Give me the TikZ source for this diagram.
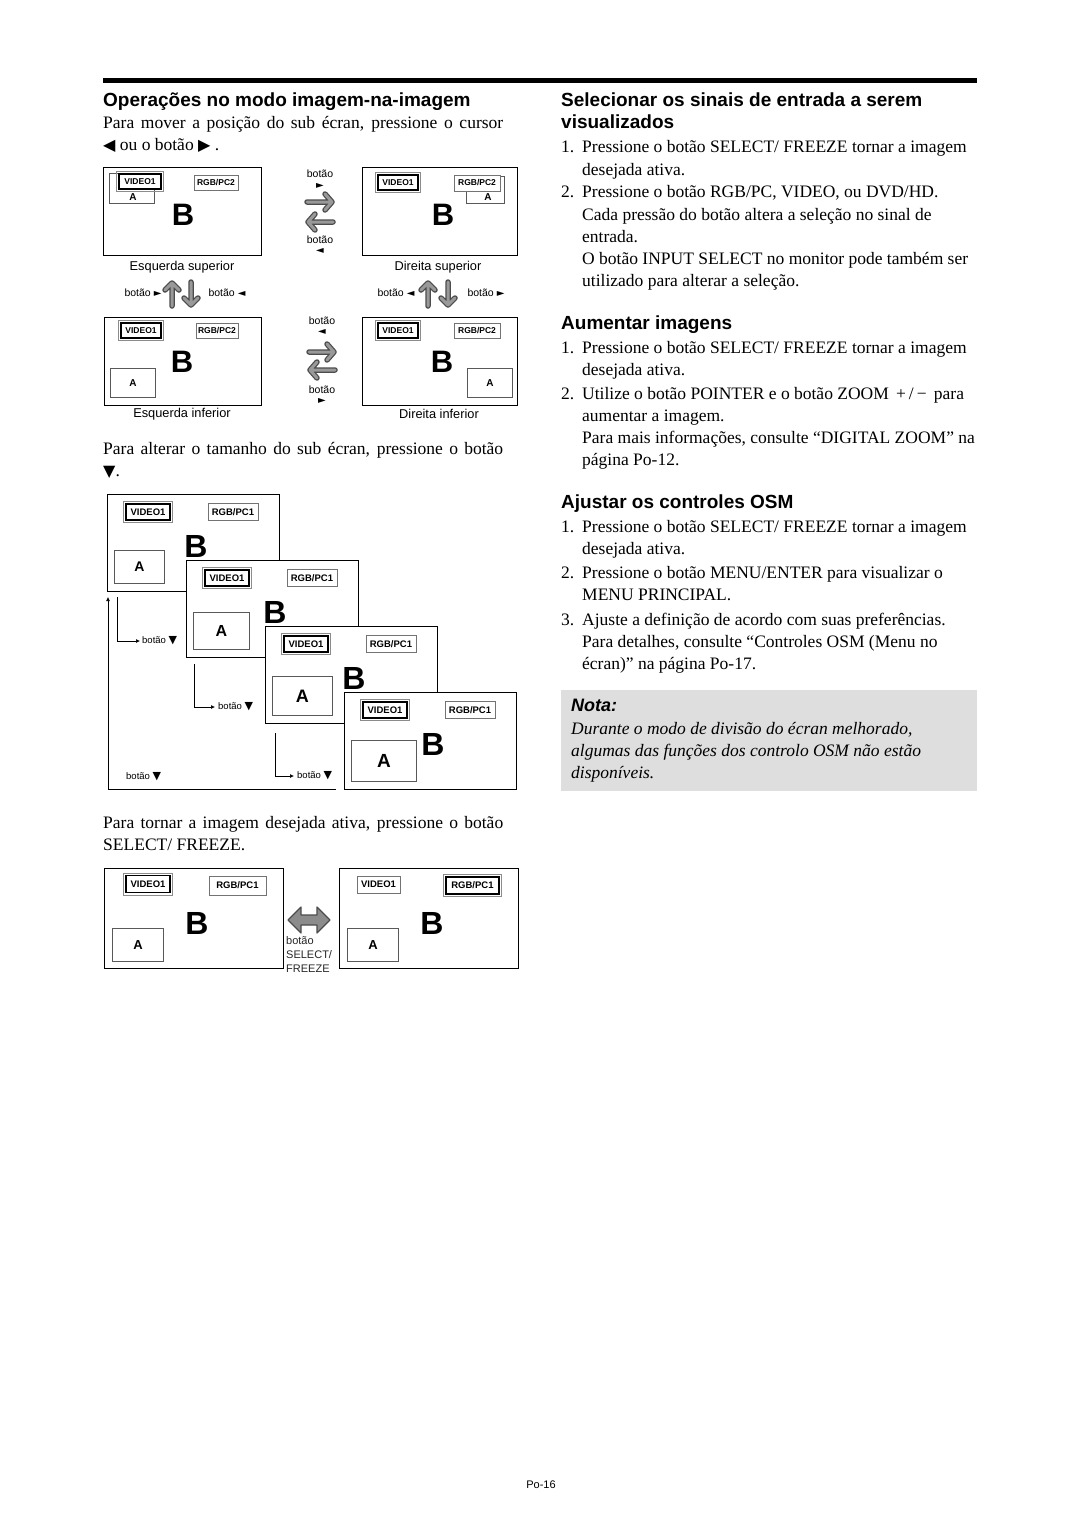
\documentclass[tikz,border=0pt]{standalone}
\usepackage{fontspec}
\setmainfont{Liberation Serif}
\setsansfont{Liberation Sans}
\newfontfamily\symf{DejaVu Sans}
\usetikzlibrary{arrows.meta}
\tikzset{
  body/.style={anchor=base west, inner sep=0pt, font=\fontsize{17.5}{21}\selectfont},
  bodyit/.style={body, font=\itshape\fontsize{17.5}{21}\selectfont},
  head/.style={anchor=base west, inner sep=0pt, font=\sffamily\bfseries\fontsize{19}{22}\selectfont},
  scr/.style={draw=black, line width=1.1pt, fill=white},
  abox/.style={draw=black!65, line width=0.9pt, fill=white},
  lbl/.style={draw=black!55, line width=0.7pt, fill=white, inner sep=0pt, font=\sffamily\bfseries\fontsize{8.5}{9}\selectfont},
  lblb/.style={lbl, font=\sffamily\bfseries\fontsize{9.5}{10}\selectfont},
  bigB/.style={inner sep=0pt, font=\sffamily\bfseries\fontsize{31}{31}\selectfont},
  smalltxt/.style={inner sep=0pt, font=\sffamily\fontsize{10.5}{11}\selectfont},
  captxt/.style={inner sep=0pt, font=\sffamily\fontsize{12.8}{13}\selectfont},
  gout/.style={draw=black!70, line width=5.5pt, line cap=round, line join=round},
  gin/.style={draw=black!40, line width=3pt, line cap=round, line join=round},
  thinarr/.style={draw=black, line width=0.7pt, -{Latex[length=4pt,width=4pt]}},
}
\newcommand\tl[4]{\node[body] (#1) at (#2,#3) {#4};}
\newcommand\tlj[4]{\node[body] (#1) at (#2,#3) {\makebox[400pt][s]{#4}};}
\newcommand\tli[4]{\node[bodyit] (#1) at (#2,#3) {#4};}
% active label with double border
\newcommand\actlbl[7]{\node[#7, draw=black, line width=1.1pt, minimum width=#4, minimum height=#5] (#1) at (#2,#3) {#6};
  \draw[black!45, line width=0.6pt] ([shift={(-2,2)}]#1.south west) rectangle ([shift={(2,-2)}]#1.north east);}
\newcommand\inlbl[7]{\node[#7, minimum width=#4, minimum height=#5] (#1) at (#2,#3) {#6};}
\newcommand\harrow[3]{\begin{scope}[shift={(#1,#2)}, xscale=#3]
  \draw[gout] (-13,0) -- (12,0) (5,-8) -- (12,0) -- (5,8);
  \draw[gin] (-13,0) -- (12,0) (5,-8) -- (12,0) -- (5,8);
\end{scope}}
\newcommand\uparr[2]{\begin{scope}[shift={(#1,#2)}]
  \draw[gout] (0,12) -- (0,-11) (-7,-4) -- (0,-11) -- (7,-4);
  \draw[gin] (0,12) -- (0,-11) (-7,-4) -- (0,-11) -- (7,-4);
\end{scope}}
\newcommand\dnarr[2]{\begin{scope}[shift={(#1,#2)}]
  \draw[gout] (0,-12) -- (0,11) (-7,4) -- (0,11) -- (7,4);
  \draw[gin] (0,-12) -- (0,11) (-7,4) -- (0,11) -- (7,4);
\end{scope}}
\newcommand\tri[1]{{\symf\fontsize{10}{10}\selectfont #1}}
\newcommand\bigtri[1]{{\symf\fontsize{16}{16}\selectfont #1}}
\begin{document}
\begin{tikzpicture}[x=1pt,y=-1pt]
\useasboundingbox[fill=white] (0,0) rectangle (1080,1528);
\draw[line width=5.5pt] (103,80.5) -- (977,80.5);

% ---------- left column text ----------
\node[head] (hL) at (103,106) {Operações no modo imagem-na-imagem};
\tlj{l1}{103}{128}{Para mover a posição do sub écran, pressione o cursor}
\tl{l2}{103}{150}{\bigtri{◀} ou o botão \bigtri{▶} .}

% ---------- top grid ----------
% screen TL
\node[scr, minimum width=158, minimum height=88, anchor=north west] (s1) at (103,167) {};
\node[abox, minimum width=45, minimum height=30, anchor=north west] (s1a) at (109,173) {};
\actlbl{s1v}{140}{181.5}{42}{15}{VIDEO1}{lbl}
\inlbl{s1r}{216}{182.5}{44}{15}{RGB/PC2}{lbl}
\node[inner sep=0pt, font=\sffamily\bfseries\fontsize{10}{10}\selectfont] (s1at) at (133,197) {A};
\node[bigB] (s1b) at (183,215) {B};
% screen TR
\node[scr, minimum width=155, minimum height=88, anchor=north west] (s2) at (362,167) {};
\node[abox, minimum width=38, minimum height=27, anchor=north west] (s2a) at (466,176) {};
\actlbl{s2v}{398}{182.5}{40}{15}{VIDEO1}{lbl}
\inlbl{s2r}{477}{183}{46}{16}{RGB/PC2}{lbl}
\node[inner sep=0pt, font=\sffamily\bfseries\fontsize{10}{10}\selectfont] (s2at) at (488,197) {A};
\node[bigB] (s2b) at (443,215) {B};
% arrows between
\node[smalltxt] (b1) at (320,174) {botão};
\node[inner sep=0pt] (b1t) at (320,186) {\tri{►}};
\harrow{320}{202}{1}
\harrow{320}{222}{-1}
\node[smalltxt] (b2) at (320,240) {botão};
\node[inner sep=0pt] (b2t) at (320,251) {\tri{◄}};
\node[captxt] (c1) at (182,267) {Esquerda superior};
\node[captxt] (c2) at (438,267) {Direita superior};
% small arrows row
\node[smalltxt] (b3) at (143,293) {botão \tri{►}};
\uparr{172}{294}
\dnarr{191}{294}
\node[smalltxt] (b4) at (227,293) {botão \tri{◄}};
\node[smalltxt] (b5) at (396,293) {botão \tri{◄}};
\uparr{428}{294}
\dnarr{448}{294}
\node[smalltxt] (b6) at (486,293) {botão \tri{►}};

% screen BL
\node[scr, minimum width=157, minimum height=88, anchor=north west] (s3) at (104,317) {};
\actlbl{s3v}{141}{330.5}{40}{15}{VIDEO1}{lbl}
\inlbl{s3r}{217}{330.5}{42}{15}{RGB/PC2}{lbl}
\node[abox, minimum width=45, minimum height=29, anchor=north west, font=\sffamily\bfseries\fontsize{10}{10}\selectfont] (s3a) at (110,368) {A};
\node[bigB] (s3b) at (182,362) {B};
% screen BR
\node[scr, minimum width=155, minimum height=88, anchor=north west] (s4) at (362,317) {};
\actlbl{s4v}{398}{330.5}{40}{15}{VIDEO1}{lbl}
\inlbl{s4r}{477}{330.5}{46}{15}{RGB/PC2}{lbl}
\node[abox, minimum width=45, minimum height=29, anchor=north west, font=\sffamily\bfseries\fontsize{10}{10}\selectfont] (s4a) at (467,368) {A};
\node[bigB] (s4b) at (442,362) {B};
\node[smalltxt] (b7) at (322,321) {botão};
\node[inner sep=0pt] (b7t) at (322,332) {\tri{◄}};
\harrow{322}{352}{1}
\harrow{322}{370}{-1}
\node[smalltxt] (b8) at (322,390) {botão};
\node[inner sep=0pt] (b8t) at (322,401) {\tri{►}};
\node[captxt] (c3) at (182,414) {Esquerda inferior};
\node[captxt] (c4) at (439,414) {Direita inferior};

\tlj{l3}{103}{454}{Para alterar o tamanho do sub écran, pressione o botão}
\tl{l4}{103}{476}{\bigtri{▼}.}

% ---------- cascade ----------
\foreach \k/\w/\h/\fs in {0/50/33/14, 1/56/37/16, 2/60/39/18, 3/65/41/19} {
  \pgfmathsetmacro\ox{107+79*\k}
  \pgfmathsetmacro\oy{494+66*\k}
  \begin{scope}[shift={(\ox,\oy)}]
    \node[scr, minimum width=172, minimum height=97, anchor=north west] (c\k) at (0,0) {};
    \node[lblb, draw=black, line width=1.1pt, minimum width=44, minimum height=16] (c\k v) at (41,18) {VIDEO1};
    \draw[black!45, line width=0.6pt] ([shift={(-2,2)}]c\k v.south west) rectangle ([shift={(2,-2)}]c\k v.north east);
    \node[lblb, minimum width=50, minimum height=17] (c\k r) at (126,18) {RGB/PC1};
    \node[abox, minimum width=\w, minimum height=\h, anchor=south west, font=\sffamily\bfseries\fontsize{\fs}{\fs}\selectfont] (c\k a) at (7,90) {A};
    \node[bigB, font=\sffamily\bfseries\fontsize{32}{32}\selectfont] (c\k b) at (89,52) {B};
  \end{scope}
}
\coordinate (p1s) at (117,597); \coordinate (p1c) at (117,641); \coordinate (p1e) at (140,641);
\draw[thinarr] (p1s) -- (p1c) -- (p1e);
\node[smalltxt, anchor=west, font=\sffamily\fontsize{9.5}{10}\selectfont] (d1) at (142,641) {botão {\symf\fontsize{11}{11}\selectfont ▼}};
\coordinate (p2s) at (194,664); \coordinate (p2c) at (194,707); \coordinate (p2e) at (215,707);
\draw[thinarr] (p2s) -- (p2c) -- (p2e);
\node[smalltxt, anchor=west, font=\sffamily\fontsize{9.5}{10}\selectfont] (d2) at (218,707) {botão {\symf\fontsize{11}{11}\selectfont ▼}};
\coordinate (p3s) at (275,733); \coordinate (p3c) at (275,776); \coordinate (p3e) at (294,776);
\draw[thinarr] (p3s) -- (p3c) -- (p3e);
\node[smalltxt, anchor=west, font=\sffamily\fontsize{9.5}{10}\selectfont] (d3) at (297,776) {botão {\symf\fontsize{11}{11}\selectfont ▼}};
\coordinate (p4s) at (336,789); \coordinate (p4c) at (108,789); \coordinate (p4e) at (108,597);
\draw[thinarr] (p4s) -- (p4c) -- (p4e);
\node[smalltxt, anchor=west, font=\sffamily\fontsize{9.5}{10}\selectfont] (d4) at (126,777) {botão {\symf\fontsize{11}{11}\selectfont ▼}};

\tlj{l5}{103}{828}{Para tornar a imagem desejada ativa, pressione o botão}
\tl{l6}{103}{850}{SELECT/ FREEZE.}

% ---------- bottom pair ----------
\node[scr, minimum width=179, minimum height=100, anchor=north west] (e1) at (104,868) {};
\actlbl{e1v}{148}{884}{44}{17}{VIDEO1}{lblb}
\inlbl{e1r}{237.5}{885.5}{57}{19}{RGB/PC1}{lblb}
\node[abox, minimum width=51, minimum height=33, anchor=north west, font=\sffamily\bfseries\fontsize{13}{13}\selectfont] (e1a) at (112,928) {A};
\node[bigB, font=\sffamily\bfseries\fontsize{32}{32}\selectfont] (e1b) at (197,923) {B};
\node[scr, minimum width=179, minimum height=100, anchor=north west] (e2) at (339,868) {};
\inlbl{e2v}{378.5}{884.5}{43}{17}{VIDEO1}{lblb}
\actlbl{e2r}{472.5}{885.5}{53}{17}{RGB/PC1}{lblb}
\node[abox, minimum width=51, minimum height=33, anchor=north west, font=\sffamily\bfseries\fontsize{13}{13}\selectfont] (e2a) at (347,928) {A};
\node[bigB, font=\sffamily\bfseries\fontsize{32}{32}\selectfont] (e2b) at (432,923) {B};
\draw[fill=black!45, draw=black!70, line width=1.2pt, line join=round]
  (288,920) -- (301,907) -- (301,915) -- (317,915) -- (317,907) -- (330,920) -- (317,933) -- (317,925) -- (301,925) -- (301,933) -- cycle;
\node[anchor=north west, inner sep=0pt, align=left, font=\sffamily\fontsize{11}{14}\selectfont, text=black!85] (sf) at (286,936) {botão\\SELECT/\\FREEZE};

% ---------- right column ----------
\node[head] (h1) at (561,106) {Selecionar os sinais de entrada a serem};
\node[head] (h1b) at (561,128) {visualizados};
\tl{r1n}{561}{152}{1.}\tl{r1}{582}{152}{Pressione o botão SELECT/ FREEZE tornar a imagem}
\tl{r1b}{582}{175}{desejada ativa.}
\tl{r2n}{561}{197}{2.}\tl{r2}{582}{197}{Pressione o botão RGB/PC, VIDEO, ou DVD/HD.}
\tl{r2b}{582}{220}{Cada pressão do botão altera a seleção no sinal de}
\tl{r2c}{582}{242}{entrada.}
\tl{r2d}{582}{264}{O botão INPUT SELECT no monitor pode também ser}
\tl{r2e}{582}{286}{utilizado para alterar a seleção.}

\node[head] (h2) at (561,329) {Aumentar imagens};
\tl{r3n}{561}{353}{1.}\tl{r3}{582}{353}{Pressione o botão SELECT/ FREEZE tornar a imagem}
\tl{r3b}{582}{375}{desejada ativa.}
\tl{r4n}{561}{399}{2.}\tl{r4}{582}{399}{Utilize o botão POINTER e o botão ZOOM \,+\,/\,−\, para}
\tl{r4b}{582}{421}{aumentar a imagem.}
\tl{r4c}{582}{443}{Para mais informações, consulte “DIGITAL ZOOM” na}
\tl{r4d}{582}{465}{página Po-12.}

\node[head] (h3) at (561,508) {Ajustar os controles OSM};
\tl{r5n}{561}{532}{1.}\tl{r5}{582}{532}{Pressione o botão SELECT/ FREEZE tornar a imagem}
\tl{r5b}{582}{554}{desejada ativa.}
\tl{r6n}{561}{578}{2.}\tl{r6}{582}{578}{Pressione o botão MENU/ENTER para visualizar o}
\tl{r6b}{582}{600}{MENU PRINCIPAL.}
\tl{r7n}{561}{625}{3.}\tl{r7}{582}{625}{Ajuste a definição de acordo com suas preferências.}
\tl{r7b}{582}{647}{Para detalhes, consulte “Controles OSM (Menu no}
\tl{r7c}{582}{669}{écran)” na página Po-17.}

% nota box
\node[fill=black!13, minimum width=416, minimum height=101, anchor=north west, inner sep=0pt] (nota) at (561,690) {};
\node[anchor=base west, inner sep=0pt, font=\sffamily\bfseries\itshape\fontsize{18}{20}\selectfont] (notah) at (571,711) {Nota:};
\tli{n1}{571}{734}{Durante o modo de divisão do écran melhorado,}
\tli{n2}{571}{756}{algumas das funções dos controlo OSM não estão}
\tli{n3}{571}{778}{disponíveis.}

\node[inner sep=0pt, font=\sffamily\fontsize{11}{12}\selectfont] (pg) at (541,1485) {Po-16};
\end{tikzpicture}
\end{document}
